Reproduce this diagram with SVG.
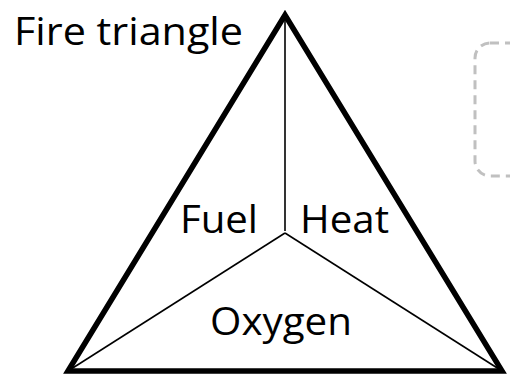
<svg xmlns="http://www.w3.org/2000/svg" width="510" height="375" viewBox="0 0 510 375">
<style>
.t{font-family:"Open Sans","Liberation Sans",sans-serif;font-size:39px;fill:#000}
.outline{fill:none;stroke:#000;stroke-width:5.5;stroke-linejoin:miter}
.inner{fill:none;stroke:#000;stroke-width:1.6}
.dash{fill:none;stroke:#c0c0c0;stroke-width:3;stroke-dasharray:9 6}
</style>
<rect width="510" height="375" fill="#fff"/>
<g id="placeholder"><rect class="dash" x="475" y="43" width="80" height="133" rx="15"/></g>
<g id="triangle"><polygon class="outline" points="68,371 285,15 502,371"/></g>
<g id="connectors">
<line class="inner" x1="285" y1="15" x2="285" y2="231"/>
<line class="inner" x1="285" y1="233" x2="68" y2="371"/>
<line class="inner" x1="285" y1="233" x2="502" y2="371"/>
</g>
<g id="title"><text class="t" x="14" y="45" textLength="229" lengthAdjust="spacingAndGlyphs">Fire triangle</text></g>
<g id="fuel"><text class="t" x="180" y="233" textLength="78" lengthAdjust="spacingAndGlyphs">Fuel</text></g>
<g id="heat"><text class="t" x="300" y="233" textLength="89" lengthAdjust="spacingAndGlyphs">Heat</text></g>
<g id="oxygen"><text class="t" x="210" y="335" textLength="142" lengthAdjust="spacingAndGlyphs">Oxygen</text></g>
</svg>
